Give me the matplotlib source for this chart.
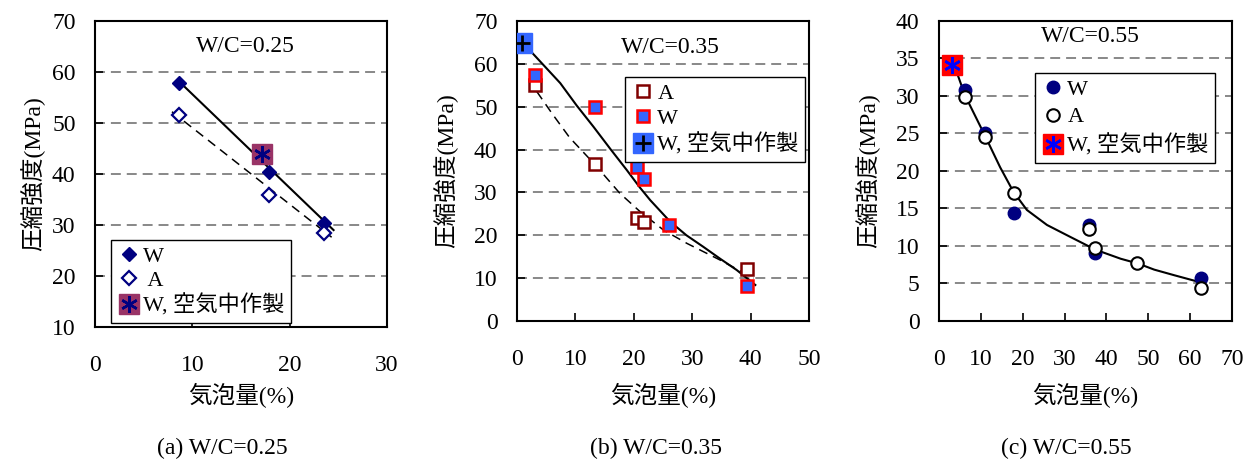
import matplotlib
matplotlib.use('Agg')
import matplotlib.pyplot as plt
import numpy as np

plt.rcParams['font.family'] = ['Liberation Serif', 'Noto Sans CJK JP']
plt.rcParams['font.size'] = 17
plt.rcParams['axes.unicode_minus'] = False

# ---- (a) W/C=0.25 ----
a_w_x = [8.6, 17.9, 23.5]
a_w_y = [57.8, 40.4, 30.4]
a_a_x = [8.6, 17.9, 23.5]
a_a_y = [51.6, 35.9, 28.4]
a_air_x = [17.1]
a_air_y = [43.9]
a_solid_x = [8.6, 24.5]
a_solid_y = [58.2, 29.0]
a_dash_x = [7.9, 24.3]
a_dash_y = [52.2, 27.6]

# ---- (b) W/C=0.35 ----
b_a_x = [3.1, 13.4, 20.5, 21.8, 39.3]
b_a_y = [55.1, 36.6, 24.0, 23.0, 12.1]
b_w_x = [3.1, 13.4, 20.5, 21.8, 26.0, 39.3]
b_w_y = [57.4, 50.0, 36.0, 33.2, 22.4, 8.1]
b_air_x = [0.8]
b_air_y = [64.8]
b_solid_x = [0.8, 4.0, 7.4, 10.2, 13.1, 16.0, 18.8, 21.0, 22.8, 26.2, 29.0, 31.9, 34.8, 37.6, 40.8]
b_solid_y = [65.2, 60.5, 55.5, 50.3, 45.3, 40.1, 35.2, 31.2, 28.2, 23.2, 20.0, 17.3, 14.5, 11.9, 8.4]
b_dash_x = [3.4, 6.0, 9.0, 13.4, 17.6, 21.0, 25.1, 29.1, 34.8, 40.5]
b_dash_y = [53.5, 48.4, 42.8, 36.4, 29.8, 25.6, 21.2, 18.1, 14.2, 10.0]

# ---- (c) W/C=0.55 ----
c_w_x = [6.2, 10.9, 17.8, 35.9, 37.3, 62.7]
c_w_y = [30.8, 25.1, 14.4, 12.85, 9.0, 5.7]
c_a_x = [6.2, 10.9, 17.8, 35.9, 37.3, 47.4, 62.7]
c_a_y = [29.8, 24.5, 17.1, 12.2, 9.7, 7.7, 4.45]
c_air_x = [3.2]
c_air_y = [34.1]
c_solid_x = [3.2, 6.2, 10.9, 14.6, 17.8, 21.0, 25.8, 31.4, 37.4, 43.4, 47.6, 51.4, 56.2, 62.8]
c_solid_y = [34.8, 30.1, 24.8, 20.5, 17.2, 14.8, 12.8, 11.2, 9.5, 8.3, 7.65, 6.85, 6.1, 5.1]

air_label = 'W, 空気中作製'

fig = plt.figure(figsize=(12.54, 4.61), dpi=100)
ax_a = fig.add_axes([0.0758, 0.2907, 0.2329, 0.6638])
ax_b = fig.add_axes([0.4123, 0.3037, 0.2329, 0.6508])
ax_c = fig.add_axes([0.7488, 0.3037, 0.2337, 0.6508])


def style_axis(ax, xlim, ylim, xstep, ystep):
    ax.set_xlim(*xlim)
    ax.set_ylim(*ylim)
    ax.set_xticks(np.arange(xlim[0], xlim[1] + 0.1, xstep))
    ax.set_yticks(np.arange(ylim[0], ylim[1] + 0.1, ystep))
    ax.tick_params(axis='both', direction='in', length=6, width=1.2, labelsize=17)
    ax.tick_params(axis='x', pad=20)
    ax.tick_params(axis='y', pad=14)
    ax.yaxis.grid(True, color='#7f7f7f', linewidth=1.3, linestyle=(0, (5.5, 3.3)))
    ax.set_axisbelow(True)
    for sp in ax.spines.values():
        sp.set_linewidth(1.5)
        sp.set_color('black')
    ax.set_xlabel('気泡量(%)', fontsize=17)
    ax.set_ylabel('圧縮強度(MPa)', fontsize=17)


def legend_kw(spacing):
    return dict(fancybox=False, framealpha=1, edgecolor='black', fontsize=16,
                handletextpad=0.15, borderpad=0.3, labelspacing=spacing,
                handlelength=1.0, borderaxespad=0)

# (a)
style_axis(ax_a, (0, 30), (10, 70), 10, 10)
ax_a.plot(a_solid_x, a_solid_y, color='black', lw=1.5, zorder=3)
ax_a.plot(a_dash_x, a_dash_y, color='black', lw=1.1, ls=(0, (6, 4)), zorder=3)
w_a, = ax_a.plot(a_w_x, a_w_y, 'D', color='#000080', ms=7, ls='none', zorder=4)
a_a, = ax_a.plot(a_a_x, a_a_y, 'D', mfc='white', mec='#000080', mew=1.6, ms=7,
                 ls='none', zorder=4)
sq_a, = ax_a.plot(a_air_x, a_air_y, 's', color='#993366', ms=15, ls='none', zorder=5)
st_a, = ax_a.plot(a_air_x, a_air_y, marker=(6, 2, 0), color='#000080', mew=1.8, ms=12,
                  ls='none', zorder=6)
ax_a.legend([w_a, a_a, (sq_a, st_a)], ['W', ' A', air_label],
            loc='lower left', bbox_to_anchor=(0.055, 0.013), **legend_kw(0.15))
ax_a.text(0.514, 0.915, 'W/C=0.25', transform=ax_a.transAxes, ha='center', va='center', fontsize=17)
ax_a.yaxis.set_label_coords(-0.172, 0.5)
ax_a.xaxis.set_label_coords(0.5, -0.183)

# (b)
style_axis(ax_b, (0, 50), (0, 70), 10, 10)
ax_b.plot(b_solid_x, b_solid_y, color='black', lw=1.5, zorder=3)
ax_b.plot(b_dash_x, b_dash_y, color='black', lw=1.1, ls=(0, (6, 4)), zorder=3)
a_b, = ax_b.plot(b_a_x, b_a_y, 's', mfc='white', mec='#800000', mew=1.8, ms=9, ls='none', zorder=4)
w_b, = ax_b.plot(b_w_x, b_w_y, 's', mfc='#3366ff', mec='#ff0000', mew=1.8, ms=9, ls='none', zorder=4)
sq_b, = ax_b.plot(b_air_x, b_air_y, 's', color='#3366ff', ms=14, ls='none', zorder=5)
pl_b, = ax_b.plot(b_air_x, b_air_y, '+', color='black', mew=2, ms=12, ls='none', zorder=6)
ax_b.legend([a_b, w_b, (sq_b, pl_b)], ['A', 'W', air_label],
            loc='upper left', bbox_to_anchor=(0.37, 0.814), **legend_kw(0.2))
ax_b.text(0.524, 0.913, 'W/C=0.35', transform=ax_b.transAxes, ha='center', va='center', fontsize=17)
ax_b.yaxis.set_label_coords(-0.202, 0.5)
ax_b.xaxis.set_label_coords(0.5, -0.207)

# (c)
style_axis(ax_c, (0, 70), (0, 40), 10, 5)
ax_c.plot(c_solid_x, c_solid_y, color='black', lw=1.5, zorder=3)
w_c, = ax_c.plot(c_w_x, c_w_y, 'o', color='#000080', ms=9, ls='none', zorder=4)
a_c, = ax_c.plot(c_a_x, c_a_y, 'o', mfc='white', mec='black', mew=1.5, ms=9, ls='none', zorder=4)
sq_c, = ax_c.plot(c_air_x, c_air_y, 's', color='#ff0000', ms=14, ls='none', zorder=5)
st_c, = ax_c.plot(c_air_x, c_air_y, marker=(6, 2, 0), color='#0000ff', mew=1.8, ms=12,
                  ls='none', zorder=6)
ax_c.legend([w_c, a_c, (sq_c, st_c)], ['W', 'A', air_label],
            loc='upper left', bbox_to_anchor=(0.328, 0.827), **legend_kw(0.3))
ax_c.text(0.515, 0.949, 'W/C=0.55', transform=ax_c.transAxes, ha='center', va='center', fontsize=17)
ax_c.yaxis.set_label_coords(-0.201, 0.5)
ax_c.xaxis.set_label_coords(0.5, -0.207)

# captions
fig.text(222 / 1254, 1 - 448 / 461, '(a) W/C=0.25', ha='center', va='center', fontsize=17)
fig.text(656 / 1254, 1 - 448 / 461, '(b) W/C=0.35', ha='center', va='center', fontsize=17)
fig.text(1066 / 1254, 1 - 448 / 461, '(c) W/C=0.55', ha='center', va='center', fontsize=17)

fig.savefig('out.png', dpi=100, facecolor='white')
plt.close(fig)
